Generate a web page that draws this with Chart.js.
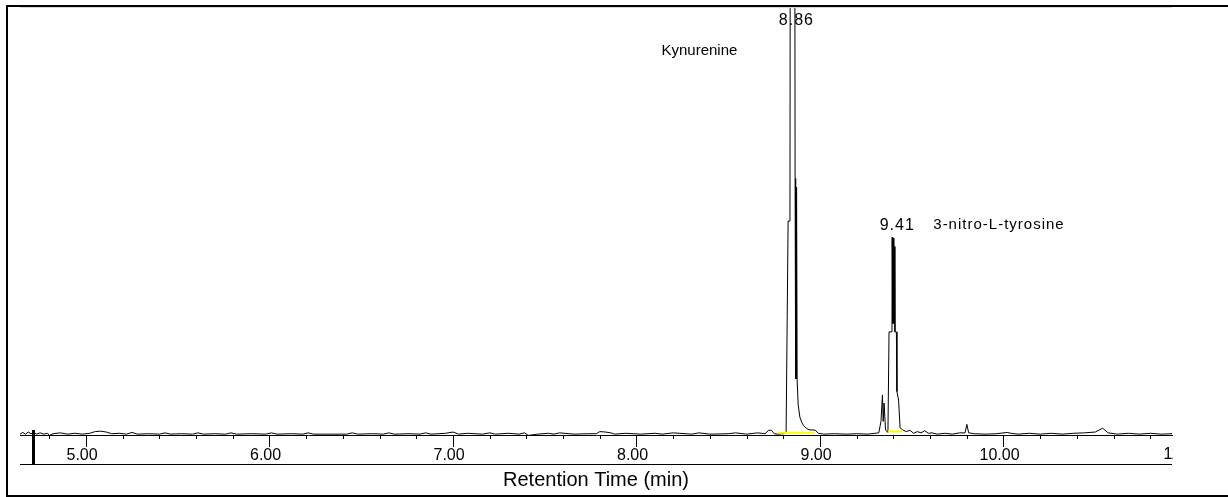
<!DOCTYPE html>
<html>
<head>
<meta charset="utf-8">
<script src="https://cdn.jsdelivr.net/npm/chart.js@4.4.0/dist/chart.umd.min.js"></script>
<style>
  html, body { margin: 0; padding: 0; background: #fff; }
</style>
</head>
<body>
<canvas id="chrom" width="1228" height="497"></canvas>
<script>
// retention time (min) / detector response (100 = top of the plot window)
const times = [
  4.64, 4.655, 4.67, 4.685, 4.70, 4.715, 4.73, 4.75, 4.77, 4.79,
  4.80, 4.82, 4.86, 4.90, 4.94, 4.98, 5.02, 5.05, 5.08, 5.11,
  5.14, 5.18, 5.22, 5.25, 5.28, 5.34, 5.40, 5.43, 5.46, 5.52,
  5.58, 5.61, 5.64, 5.70, 5.76, 5.79, 5.82, 5.90, 5.98, 6.01,
  6.04, 6.12, 6.18, 6.21, 6.24, 6.34, 6.42, 6.45, 6.48, 6.56,
  6.62, 6.65, 6.68, 6.76, 6.82, 6.85, 6.88, 6.96, 7.00, 7.03,
  7.08, 7.16, 7.20, 7.23, 7.30, 7.36, 7.39, 7.41, 7.46, 7.52,
  7.55, 7.58, 7.66, 7.74, 7.78, 7.80, 7.83, 7.86, 7.88, 7.94,
  8.02, 8.10, 8.14, 8.20, 8.30, 8.34, 8.40, 8.50, 8.54, 8.60,
  8.66, 8.70, 8.72, 8.735, 8.75, 8.77, 8.80, 8.815, 8.826, 8.836,
  8.838, 8.862, 8.864, 8.867, 8.869, 8.871, 8.873, 8.875, 8.879, 8.881,
  8.890, 8.900, 8.910, 8.925, 8.94, 8.96, 8.975, 8.99, 9.02, 9.08,
  9.14, 9.20, 9.26, 9.32, 9.332, 9.340, 9.344, 9.349, 9.357, 9.370,
  9.376, 9.392, 9.393, 9.396, 9.399, 9.402, 9.405, 9.408, 9.416, 9.419,
  9.428, 9.436, 9.45, 9.47, 9.49, 9.51, 9.53, 9.55, 9.57, 9.59,
  9.61, 9.64, 9.68, 9.72, 9.76, 9.79, 9.80, 9.81, 9.84, 9.90,
  9.96, 10.02, 10.04, 10.08, 10.14, 10.20, 10.26, 10.32, 10.38, 10.44,
  10.50, 10.54, 10.57, 10.62, 10.68, 10.74, 10.80, 10.86, 10.918
];
const signal = [
  0, 0.4, 0, 0.5, 0.1, 0.4, 0, 0.3, 0, 0.2,
  -0.3, 0.1, 0.3, 0, 0.2, 0, 0.2, 0.6, 0.7, 0.5,
  0.1, 0.2, 0, 0.4, 0, 0.1, 0, 0.3, 0, 0.1,
  0, 0.3, 0, 0.1, 0, 0.3, 0, 0.1, 0, 0.3,
  0, 0.1, 0, 0.3, 0, 0, 0, 0.3, 0, 0.1,
  0, 0.3, 0, 0.1, 0, 0.3, 0, 0.2, 0.5, 0,
  0.2, 0, 0.3, 0, 0.2, 0, 0.3, -0.3, 0, 0.2,
  0, 0.3, 0, 0.1, 0.1, 0.6, 0.5, 0.3, 0, 0.2,
  0, 0.2, 0, 0.3, 0, 0.3, 0, 0.1, 0.3, 0,
  0.3, 0.1, 0.9, 0.9, 0.1, 0, 0.1, 0.4, 50, 50,
  140, 140, 60, 13, 58, 13, 55, 12.7, 12.7, 6.8,
  4, 2.8, 2.0, 1.4, 1.0, 1.0, 0.9, 0.2, 0, 0.1,
  0, 0.1, 0, 0.3, 3, 9.2, 3, 7.3, 1, 0.4,
  24, 24, 46.2, 26, 46, 26, 44, 24, 24, 10,
  8, 1.5, 1, 0.6, 0.9, 0.2, 0.6, 0.3, 0.8, 0.2,
  0.3, 0, 0.2, 0, 0.3, 0.3, 2.3, 0.3, 0.1, 0,
  0.1, 0.4, 0.2, 0, 0.2, 0, 0.2, 0, 0.2, 0.3,
  0.5, 1.4, 0.3, 0, 0.2, 0, 0.2, 0, 0.1
];

// integration baselines (yellow)
const intStart = [8.77, 9.37];
const intEnd = [8.97, 9.45];
const intLevel = [0.3, 0.6];

// peak annotations
const peakTimes = [8.86, 9.41];
const peakLabels = ["8.86", "9.41"];
const compounds = ["Kynurenine", "3-nitro-L-tyrosine"];

// axis
const xMin = 4.64, xMax = 10.918;
const majorTicks = [5, 6, 7, 8, 9, 10];
const minorTicks = [4.8, 5.2, 5.4, 5.6, 5.8, 6.2, 6.4, 6.6, 6.8, 7.2, 7.4, 7.6, 7.8,
  8.2, 8.4, 8.6, 8.8, 9.2, 9.4, 9.6, 9.8, 10.2, 10.4, 10.6, 10.8];
const cutTick = 11;
const injectMark = 4.71;

const FONT = "Arial, 'Liberation Sans', sans-serif";

const trace = times.map((t, i) => ({ x: t, y: signal[i] }));
const integ = [];
intStart.forEach((s, i) => {
  if (i > 0) integ.push({ x: (intEnd[i - 1] + s) / 2, y: null });
  integ.push({ x: s, y: intLevel[i] }, { x: intEnd[i], y: intLevel[i] });
});

function apexOf(t) {
  let m = 0;
  times.forEach((tt, i) => { if (Math.abs(tt - t) < 0.02) m = Math.max(m, signal[i]); });
  return m;
}

const decor = {
  id: "decor",
  beforeDatasetsDraw(chart) {
    const { ctx, chartArea, scales: { x, y } } = chart;
    ctx.save();
    ctx.fillStyle = "#000";
    ctx.textBaseline = "middle";
    peakTimes.forEach((t, i) => {
      const px = x.getPixelForValue(t);
      const apex = apexOf(t);
      const clipped = apex > y.max;
      const ly = clipped ? chartArea.top + 13 : y.getPixelForValue(apex) - 12;
      ctx.font = "16px " + FONT;
      ctx.textAlign = "center";
      ctx.letterSpacing = "1px";
      ctx.fillText(peakLabels[i], px + 2, ly);
      ctx.font = "15px " + FONT;
      if (clipped) {
        ctx.textAlign = "right";
        ctx.letterSpacing = "0px";
        ctx.fillText(compounds[i], px - 57, ly + 30);
      } else {
        ctx.textAlign = "left";
        ctx.letterSpacing = "1px";
        ctx.fillText(compounds[i], px + 38, ly);
      }
      ctx.letterSpacing = "0px";
    });
    ctx.restore();
  },
  afterDraw(chart) {
    const { ctx, chartArea, scales: { x } } = chart;
    const base = chartArea.bottom;
    ctx.save();
    ctx.fillStyle = "#000";
    // minor ticks
    minorTicks.forEach(v => {
      const px = Math.round(x.getPixelForValue(v));
      ctx.fillRect(px, base, 1, 4);
    });
    // injection marker
    const ip = Math.round(x.getPixelForValue(injectMark));
    ctx.fillRect(ip - 1, base - 5, 3, 35);
    // lower axis line
    ctx.fillRect(chartArea.left, 464, chartArea.right - chartArea.left, 1);
    // truncated last label
    ctx.save();
    ctx.beginPath();
    ctx.rect(0, base, chartArea.right + 1, 30);
    ctx.clip();
    ctx.font = "16px " + FONT;
    ctx.textAlign = "center";
    ctx.textBaseline = "top";
    ctx.fillText(cutTick.toFixed(2), x.getPixelForValue(cutTick) - 4, base + 12);
    ctx.restore();
    // frame
    ctx.fillStyle = "#d8d8d8";
    ctx.fillRect(chartArea.left, 7, chartArea.right - chartArea.left, 1);
    ctx.fillStyle = "#000";
    ctx.fillRect(6, 5, 1222, 2);
    ctx.fillRect(6, 5, 2, 492);
    ctx.fillRect(6, 495, 1222, 2);
    ctx.restore();
  }
};

new Chart(document.getElementById("chrom"), {
  type: "line",
  data: {
    datasets: [
      {
        data: integ,
        borderColor: "#ffff00",
        borderWidth: 2,
        pointRadius: 0,
        spanGaps: false
      },
      {
        data: trace,
        borderColor: "#000",
        borderWidth: 1,
        pointRadius: 0,
        tension: 0
      }
    ]
  },
  options: {
    responsive: false,
    animation: false,
    devicePixelRatio: 1,
    layout: { padding: { left: 20, right: 56, top: 8, bottom: 0 } },
    plugins: { legend: { display: false }, tooltip: { enabled: false } },
    scales: {
      x: {
        type: "linear",
        min: xMin,
        max: xMax,
        afterBuildTicks: s => { s.ticks = majorTicks.map(v => ({ value: v })); },
        ticks: {
          color: "#000",
          font: { family: FONT, size: 16, lineHeight: 1.125 },
          padding: 0,
          labelOffset: -4,
          maxRotation: 0,
          autoSkip: false,
          callback: v => Number(v).toFixed(2)
        },
        grid: {
          display: true,
          drawOnChartArea: false,
          drawTicks: true,
          tickLength: 12,
          tickColor: "#000",
          tickWidth: 1
        },
        border: { display: true, color: "#000", width: 1 },
        title: {
          display: true,
          text: "Retention Time (min)",
          color: "#000",
          font: { family: FONT, size: 20 },
          padding: { top: 3, bottom: 5 }
        }
      },
      y: {
        display: false,
        min: -0.2,
        max: 100
      }
    }
  },
  plugins: [decor]
});
</script>
</body>
</html>
